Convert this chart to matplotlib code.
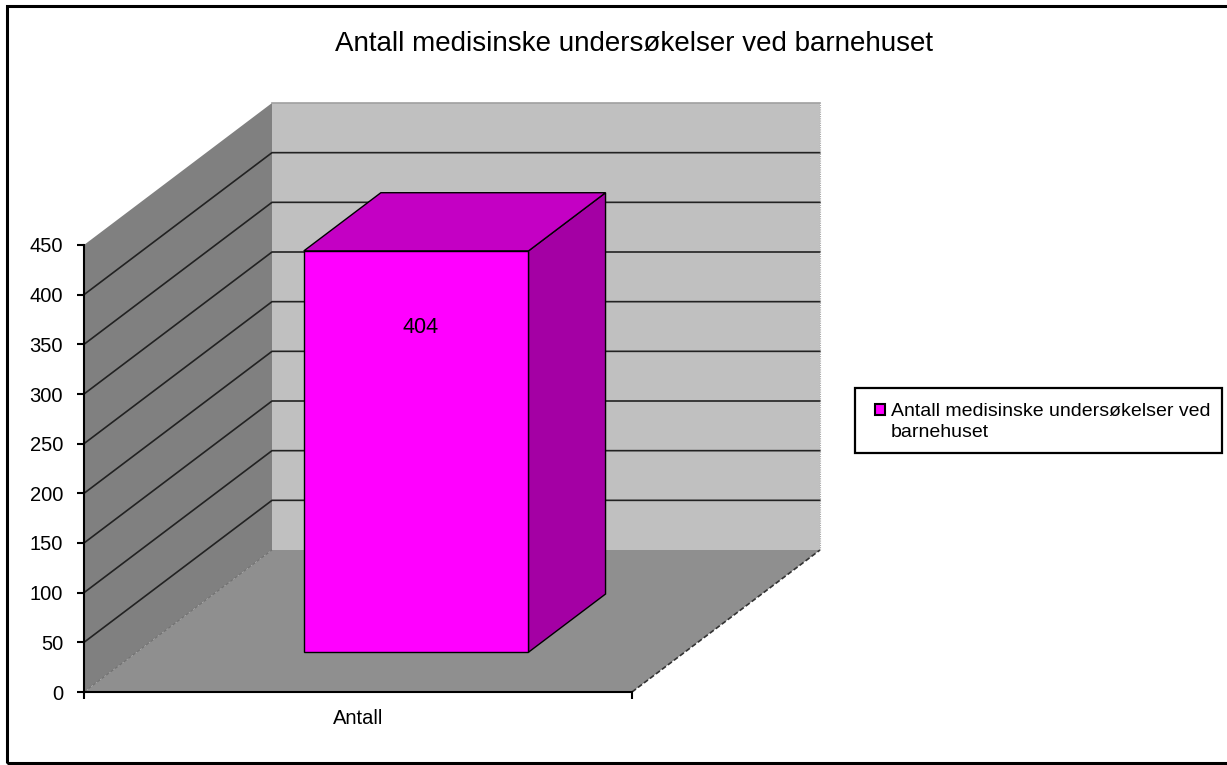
import matplotlib.pyplot as plt
from matplotlib.patches import Polygon, Patch, Rectangle

# data
categories = ["Antall"]
values = [404]
series_name = "Antall medisinske undersøkelser ved barnehuset"
legend_lines = ["Antall medisinske undersøkelser ved", "barnehuset"]
yticks = list(range(0, 451, 50))
title = "Antall medisinske undersøkelser ved barnehuset"

plt.rcParams["font.family"] = ["Liberation Sans", "DejaVu Sans"]

W, H = 1227, 765
fig = plt.figure(figsize=(W / 100, H / 100), dpi=100)

# axes frame in pixels: front axis 84..632 (one category), 0..450 -> 692..245
px_left, px_right, px_bottom, px_top = 84, 825, 692, 102
cat_px = 632 - 84
unit_px = (692 - 245) / 450.0
ax = fig.add_axes([px_left / W, (H - px_bottom) / H,
                   (px_right - px_left) / W, (px_bottom - px_top) / H])
ax.set_xlim(0, (px_right - px_left) / cat_px)
ax.set_ylim(0, (px_bottom - px_top) / unit_px)
ax.patch.set_visible(False)

# oblique depth offset (in data units)
DX = 188 / cat_px
DY = 142 / unit_px
ymax = yticks[-1]


def proj(x, y, d):
    return (x + d * DX, y + d * DY)


# walls and floor
side = [proj(0, 0, 0), proj(0, ymax, 0), proj(0, ymax, 1), proj(0, 0, 1)]
back = [proj(0, 0, 1), proj(0, ymax, 1), proj(1, ymax, 1), proj(1, 0, 1)]
floor = [proj(0, 0, 0), proj(1, 0, 0), proj(1, 0, 1), proj(0, 0, 1)]
ax.add_patch(Polygon(side, closed=True, facecolor="#808080", edgecolor="none", zorder=1))
ax.add_patch(Polygon(back, closed=True, facecolor="#c0c0c0", edgecolor="none", zorder=1))
ax.add_patch(Polygon(floor, closed=True, facecolor="#8f8f8f", edgecolor="none", zorder=1))

# gridlines
for v in yticks[1:-1]:
    a, b, c = proj(0, v, 0), proj(0, v, 1), proj(1, v, 1)
    ax.plot([a[0], b[0], c[0]], [a[1], b[1], c[1]], color="#222222", lw=1.2, zorder=2)
a, b = proj(0, ymax, 1), proj(1, ymax, 1)
ax.plot([a[0], b[0]], [a[1], b[1]], color="#a0a0a0", lw=1.2, zorder=2)
a, b = proj(1, 0, 0), proj(1, 0, 1)
ax.plot([a[0], b[0]], [a[1], b[1]], color="#333333", lw=1.2, ls=(0, (3, 1.5)), zorder=2)
a, b = proj(0, 0, 0), proj(0, 0, 1)
ax.plot([a[0], b[0]], [a[1], b[1]], color="#707070", lw=0.8, ls=(0, (3, 2)), zorder=2)
a, b = proj(1, 0, 1), proj(1, ymax, 1)
ax.plot([a[0], b[0]], [a[1], b[1]], color="#a8a8a8", lw=0.8, ls=(0, (1, 1)), zorder=2)

# 3D bar
bar_w = 0.41
d0, d1 = 0.28, 0.69
for i, (cat, val) in enumerate(zip(categories, values)):
    xc = i + 0.51
    x0, x1 = xc - bar_w / 2, xc + bar_w / 2
    front = [proj(x0, 0, d0), proj(x0, val, d0), proj(x1, val, d0), proj(x1, 0, d0)]
    top = [proj(x0, val, d0), proj(x0, val, d1), proj(x1, val, d1), proj(x1, val, d0)]
    right = [proj(x1, 0, d0), proj(x1, val, d0), proj(x1, val, d1), proj(x1, 0, d1)]
    for poly, col in ((right, "#a400a4"), (top, "#c400c4"), (front, "#ff00ff")):
        ax.add_patch(Polygon(poly, closed=True, facecolor=col, edgecolor="black",
                             lw=1.0, joinstyle="miter", zorder=3))
    lx, ly = proj(xc, val, d0)
    ax.annotate(str(val), (lx, ly), xytext=(3.5, -55), textcoords="offset points",
                ha="center", va="center", fontsize=15.5, zorder=4)

# axes spines and ticks
for s in ("top", "right"):
    ax.spines[s].set_visible(False)
ax.spines["left"].set_bounds(0, ymax)
ax.spines["bottom"].set_bounds(0, len(categories))
ax.spines["left"].set_linewidth(1.5)
ax.spines["bottom"].set_linewidth(1.5)
ax.spines["left"].set_zorder(5)
ax.spines["bottom"].set_zorder(5)
ax.set_yticks(yticks)
ax.tick_params(axis="y", direction="out", length=5, width=1.5, labelsize=14.5, pad=10)
ax.set_xticks(list(range(len(categories) + 1)))
ax.set_xticklabels([])
ax.set_xticks([i + 0.5 for i in range(len(categories))], minor=True)
ax.set_xticklabels(categories, minor=True)
ax.tick_params(axis="x", which="major", direction="out", length=5, width=1.5)
ax.tick_params(axis="x", which="minor", length=0, labelsize=14.5, pad=12)

fig.text(634 / W, 1 - 44 / H, title, ha="center", va="center", fontsize=20)

# legend: marker next to the first line only, frame drawn separately
handles = [Patch(facecolor="#ff00ff", edgecolor="black", lw=1.5),
           Patch(facecolor="none", edgecolor="none")]
leg = fig.legend(handles=handles, labels=legend_lines,
                 bbox_to_anchor=(875 / W, 1 - 403 / H), loc="upper left",
                 fontsize=14, frameon=False, handlelength=0.5, handleheight=0.5,
                 handletextpad=0.3, borderpad=0, labelspacing=0.22, borderaxespad=0)
fig.patches.append(Rectangle((855 / W, 1 - 453 / H), (1222 - 855) / W, (453 - 388) / H,
                             transform=fig.transFigure, fill=False,
                             edgecolor="black", lw=1.6))

# outer frame
fig.patches.append(Rectangle((7 / W, 2 / H), (1240 - 7) / W, (759 - 2) / H,
                             transform=fig.transFigure, fill=False,
                             edgecolor="black", lw=2.2, zorder=0))

fig.savefig("out.png", dpi=100)
